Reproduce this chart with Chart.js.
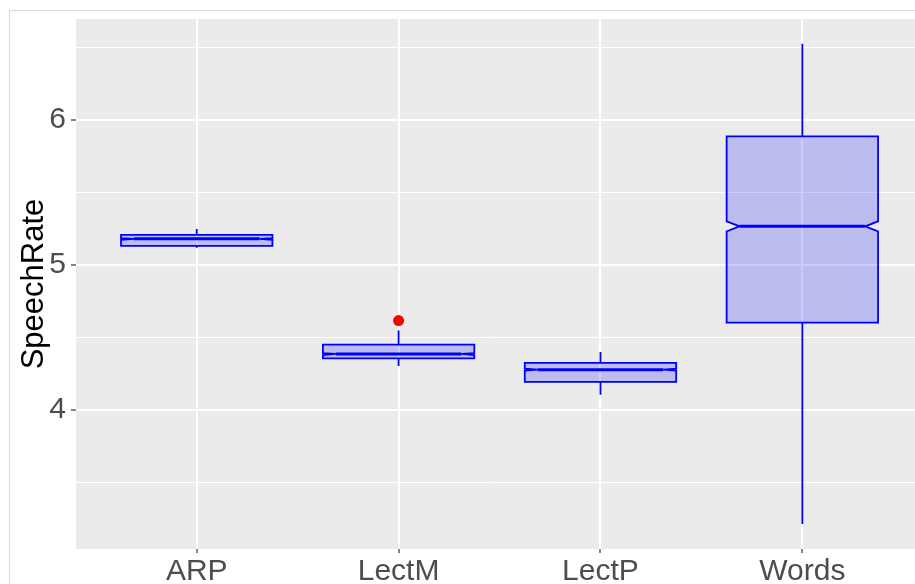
<!DOCTYPE html>
<html><head><meta charset="utf-8">
<script src="https://cdn.jsdelivr.net/npm/chart.js@4.4.1/dist/chart.umd.min.js"></script>
<style>html,body{margin:0;padding:0;background:#fff;overflow:hidden}canvas{display:block}</style>
</head><body>
<canvas id="c" width="915" height="584"></canvas>
<script>
// ---- data ----
const categories = ['ARP', 'LectM', 'LectP', 'Words'];
const whiskerLow  = [5.116, 4.301, 4.103, 3.212];
const q1          = [5.129, 4.354, 4.191, 4.600];
const median      = [5.178, 4.384, 4.276, 5.264];
const q3          = [5.205, 4.448, 4.322, 5.885];
const whiskerHigh = [5.246, 4.545, 4.398, 6.524];
const notchLow    = [5.171, 4.376, 4.269, 5.230];
const notchHigh   = [5.183, 4.390, 4.283, 5.299];
const outlierCategory = ['LectM'];
const outlierValue    = [4.614];
const yMajorTicks = [4, 5, 6];
const yMinorTicks = [3.5, 4.5, 5.5, 6.5];
const yTitle = 'SpeechRate';

const FONT = '"Liberation Sans", Arial, Helvetica, sans-serif';
const BOX_HALF = 0.375;      // half box width in category units
const NOTCH_FRAC = 0.085;    // notch indent as fraction of box width

const backgroundPlugin = {
  id: 'bg',
  beforeDraw(chart) {
    const {ctx, chartArea: a, width, height} = chart;
    ctx.save();
    ctx.fillStyle = '#ffffff';
    ctx.fillRect(0, 0, width, height);
    ctx.strokeStyle = '#dcdcdc';
    ctx.lineWidth = 1.2;
    ctx.beginPath();
    ctx.moveTo(9.5, height); ctx.lineTo(9.5, 10.5); ctx.lineTo(width, 10.5);
    ctx.stroke();
    ctx.fillStyle = '#ebebeb';
    ctx.fillRect(a.left, a.top, a.right - a.left, a.bottom - a.top);
    ctx.restore();
  }
};

const boxPlugin = {
  id: 'boxes',
  beforeDatasetsDraw(chart) {
    const {ctx, chartArea: a} = chart;
    const xs = chart.scales.x, ys = chart.scales.y;
    ctx.save();
    ctx.beginPath();
    ctx.rect(a.left, a.top, a.right - a.left, a.bottom - a.top);
    ctx.clip();
    categories.forEach((c, i) => {
      const cx = xs.getPixelForValue(i + 1);
      const xmin = xs.getPixelForValue(i + 1 - BOX_HALF);
      const xmax = xs.getPixelForValue(i + 1 + BOX_HALF);
      const ind = (xmax - xmin) * NOTCH_FRAC;
      const yU = ys.getPixelForValue(q3[i]);
      const yL = ys.getPixelForValue(q1[i]);
      const yM = ys.getPixelForValue(median[i]);
      const yNU = ys.getPixelForValue(notchHigh[i]);
      const yNL = ys.getPixelForValue(notchLow[i]);
      const yWH = ys.getPixelForValue(whiskerHigh[i]);
      const yWL = ys.getPixelForValue(whiskerLow[i]);
      ctx.strokeStyle = '#0000ff';
      ctx.lineWidth = 1.8;
      ctx.lineCap = 'butt';
      ctx.beginPath();
      ctx.moveTo(cx, yU); ctx.lineTo(cx, yWH);
      ctx.moveTo(cx, yL); ctx.lineTo(cx, yWL);
      ctx.stroke();
      ctx.beginPath();
      ctx.moveTo(xmin, yU);
      ctx.lineTo(xmin, yNU);
      ctx.lineTo(xmin + ind, yM);
      ctx.lineTo(xmin, yNL);
      ctx.lineTo(xmin, yL);
      ctx.lineTo(xmax, yL);
      ctx.lineTo(xmax, yNL);
      ctx.lineTo(xmax - ind, yM);
      ctx.lineTo(xmax, yNU);
      ctx.lineTo(xmax, yU);
      ctx.closePath();
      ctx.fillStyle = 'rgba(0,0,255,0.2)';
      ctx.fill();
      ctx.lineJoin = 'miter';
      ctx.stroke();
      ctx.lineWidth = 3;
      ctx.beginPath();
      ctx.moveTo(xmin + ind, yM); ctx.lineTo(xmax - ind, yM);
      ctx.stroke();
    });
    ctx.restore();
  }
};

const outlierPoints = outlierCategory.map((c, k) => ({x: categories.indexOf(c) + 1, y: outlierValue[k]}));

new Chart(document.getElementById('c'), {
  type: 'scatter',
  data: {
    datasets: [{
      label: 'outliers',
      data: outlierPoints,
      pointRadius: 5.5,
      pointBackgroundColor: '#ff0000',
      pointBorderWidth: 0,
      borderColor: '#ff0000',
      showLine: false
    }]
  },
  options: {
    responsive: false,
    animation: false,
    devicePixelRatio: 1,
    layout: {autoPadding: false, padding: {top: 19, left: 0, right: 0, bottom: 0}},
    plugins: {legend: {display: false}, tooltip: {enabled: false}, title: {display: false}},
    scales: {
      x: {
        type: 'linear',
        min: 0.402, max: 4.558,
        afterBuildTicks(s) { s.ticks = categories.map((c, i) => ({value: i + 1})); },
        afterFit(s) { s.height = 35; s.paddingLeft = 0; s.paddingRight = 0; },
        border: {display: false},
        grid: {color: '#ffffff', lineWidth: 2, tickLength: 4, tickColor: '#333333', tickWidth: 1.2, drawOnChartArea: true},
        ticks: {
          callback: (v) => categories[Math.round(v) - 1],
          font: {family: FONT, size: 30, lineHeight: 1},
          color: '#4d4d4d', padding: 4, autoSkip: false, maxRotation: 0
        }
      },
      y: {
        type: 'linear',
        min: 3.039, max: 6.694,
        afterBuildTicks(s) {
          s.ticks = yMajorTicks.concat(yMinorTicks).sort((a, b) => a - b).map(v => ({value: v}));
        },
        afterFit(s) { s.width = 76; s.paddingTop = 0; s.paddingBottom = 0; },
        border: {display: false},
        grid: {
          color: '#ffffff',
          lineWidth: (c) => yMajorTicks.includes(c.tick && c.tick.value) ? 2 : 1,
          tickLength: 5,
          tickColor: (c) => yMajorTicks.includes(c.tick && c.tick.value) ? '#333333' : 'rgba(0,0,0,0)',
          tickWidth: 1.2
        },
        ticks: {
          callback: (v) => yMajorTicks.includes(v) ? String(v) : '',
          font: {family: FONT, size: 30, lineHeight: 1.2},
          color: '#4d4d4d', padding: 5, autoSkip: false
        },
        title: {
          display: true, text: yTitle,
          font: {family: FONT, size: 31, lineHeight: 1.2},
          color: '#000000',
          padding: {top: 15.5, bottom: 0}
        }
      }
    }
  },
  plugins: [backgroundPlugin, boxPlugin]
});
</script>
</body></html>
